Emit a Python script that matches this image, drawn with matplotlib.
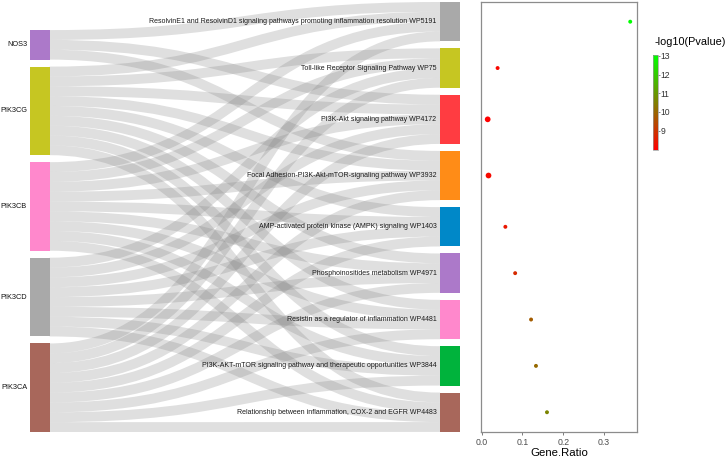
import matplotlib
matplotlib.use('Agg')
import matplotlib.pyplot as plt
import numpy as np
from matplotlib.path import Path
from matplotlib.patches import PathPatch, Rectangle
from matplotlib.colors import LinearSegmentedColormap

plt.rcParams['font.family'] = ['Liberation Sans', 'DejaVu Sans']

# ---------------- data ----------------
genes = ['NOS3', 'PIK3CG', 'PIK3CB', 'PIK3CD', 'PIK3CA']
gene_colors = ['#AC79C9', '#C6C622', '#FF88CC', '#A9A9A9', '#A8675B']

pathways = [
    'ResolvinE1 and ResolvinD1 signaling pathways promoting inflammation resolution WP5191',
    'Toll-like Receptor Signaling Pathway WP75',
    'PI3K-Akt signaling pathway WP4172',
    'Focal Adhesion-PI3K-Akt-mTOR-signaling pathway WP3932',
    'AMP-activated protein kinase (AMPK) signaling WP1403',
    'Phosphoinositides metabolism WP4971',
    'Resistin as a regulator of inflammation WP4481',
    'PI3K-AKT-mTOR signaling pathway and therapeutic opportunities WP3844',
    'Relationship between inflammation, COX-2 and EGFR WP4483',
]
pathway_colors = ['#A9A9A9', '#C6C622', '#FF3C41', '#FF8C17', '#0088C8',
                  '#AC79C9', '#FF88CC', '#00B33C', '#A8675B']

pathway_genes = [
    ['NOS3', 'PIK3CG', 'PIK3CB', 'PIK3CA'],
    ['PIK3CG', 'PIK3CB', 'PIK3CD', 'PIK3CA'],
    ['NOS3', 'PIK3CG', 'PIK3CB', 'PIK3CD', 'PIK3CA'],
    ['NOS3', 'PIK3CG', 'PIK3CB', 'PIK3CD', 'PIK3CA'],
    ['PIK3CG', 'PIK3CB', 'PIK3CD', 'PIK3CA'],
    ['PIK3CG', 'PIK3CB', 'PIK3CD', 'PIK3CA'],
    ['PIK3CG', 'PIK3CB', 'PIK3CD', 'PIK3CA'],
    ['PIK3CG', 'PIK3CB', 'PIK3CD', 'PIK3CA'],
    ['PIK3CG', 'PIK3CB', 'PIK3CD', 'PIK3CA'],
]

gene_ratio = [0.364, 0.039, 0.0147, 0.0167, 0.058, 0.082, 0.121, 0.133, 0.160]
neg_log10_p = [13.05, 8.10, 7.96, 8.15, 8.40, 8.80, 9.80, 10.05, 10.60]
cbar_ticks = [9, 10, 11, 12, 13]
xticks = [0.0, 0.1, 0.2, 0.3]

# ---------------- layout (pixels) ----------------
W, H, DPI = 726, 458, 100
fig = plt.figure(figsize=(W / DPI, H / DPI), dpi=DPI)
ax = fig.add_axes([0, 0, 1, 1])
ax.set_xlim(0, W)
ax.set_ylim(H, 0)
ax.axis('off')

unit = 9.84
gap = 7.0
node_w = 19.5
gene_x0 = 30.0
path_x0 = 440.0
path_top = 2.0
gene_bottom = 432.0

links = [(g, p) for p, gl in enumerate(pathway_genes) for g in (genes.index(x) for x in gl)]
gene_count = [sum(1 for l in links if l[0] == i) for i in range(len(genes))]
path_count = [len(gl) for gl in pathway_genes]

# node positions
gene_h = [c * unit for c in gene_count]
gene_top0 = gene_bottom - (sum(gene_h) + gap * (len(genes) - 1))
gene_y0 = []
y = gene_top0
for h in gene_h:
    gene_y0.append(y)
    y += h + gap
path_h = [c * unit for c in path_count]
path_y0 = []
y = path_top
for h in path_h:
    path_y0.append(y)
    y += h + gap
path_centers = [y0 + h / 2 for y0, h in zip(path_y0, path_h)]

# slots
src_slot = {}
for gi in range(len(genes)):
    ls = sorted([l for l in links if l[0] == gi], key=lambda l: l[1])
    for k, l in enumerate(ls):
        src_slot[l] = gene_y0[gi] + (k + 0.5) * unit
tgt_slot = {}
for pi in range(len(pathways)):
    ls = sorted([l for l in links if l[1] == pi], key=lambda l: l[0])
    for k, l in enumerate(ls):
        tgt_slot[l] = path_y0[pi] + (k + 0.5) * unit

xs = gene_x0 + node_w
xt = path_x0
xm = (xs + xt) / 2
lw_pt = unit * 72 / DPI
for l in links:
    ys, yt = src_slot[l], tgt_slot[l]
    verts = [(xs, ys), (xm, ys), (xm, yt), (xt, yt)]
    codes = [Path.MOVETO, Path.CURVE4, Path.CURVE4, Path.CURVE4]
    ax.add_patch(PathPatch(Path(verts, codes), fill=False, edgecolor='#808080',
                           alpha=0.25, linewidth=lw_pt, capstyle='butt', zorder=1))

for i, g in enumerate(genes):
    ax.add_patch(Rectangle((gene_x0, gene_y0[i]), node_w, gene_h[i],
                           facecolor=gene_colors[i], edgecolor='none', zorder=2))
    ax.text(gene_x0 - 3, gene_y0[i] + gene_h[i] / 2, g, ha='right', va='center',
            fontsize=5.3, color='#111111')
for i, p in enumerate(pathways):
    ax.add_patch(Rectangle((path_x0, path_y0[i]), node_w, path_h[i],
                           facecolor=pathway_colors[i], edgecolor='none', zorder=2))
    ax.text(path_x0 - 3.5, path_centers[i], p, ha='right', va='center',
            fontsize=5.0, color='#1A1A1A', zorder=3)

# ---------------- dot plot ----------------
dl, dr, dt, db = 481, 637, 2, 432
dax = fig.add_axes([dl / W, (H - db) / H, (dr - dl) / W, (db - dt) / H])
dax.set_ylim(db, dt)
dax.set_xlim(-0.0017, 0.3806)
cmap = LinearSegmentedColormap.from_list('rg', ['#FF0000', '#00FF00'])
sizes = [17 if c == 5 else 8 for c in path_count]
sc = dax.scatter(gene_ratio, path_centers, c=neg_log10_p, cmap=cmap,
                 vmin=min(neg_log10_p), vmax=max(neg_log10_p), s=sizes,
                 edgecolors='none', zorder=3)
dax.set_yticks([])
dax.set_xticks(xticks)
dax.set_xticklabels([f'{v:.1f}' for v in xticks])
dax.tick_params(axis='x', labelsize=6.3, labelcolor='#4D4D4D', color='#666666',
                length=2.5, width=0.6, pad=2)
for s in dax.spines.values():
    s.set_color('#8C8C8C')
    s.set_linewidth(0.9)
dax.set_xlabel('Gene.Ratio', fontsize=8.2, labelpad=0.5)

# ---------------- colorbar ----------------
cx0, cx1, cy0, cy1 = 653, 658, 55, 150
cax = fig.add_axes([cx0 / W, (H - cy1) / H, (cx1 - cx0) / W, (cy1 - cy0) / H])
cb = fig.colorbar(sc, cax=cax)
cb.set_ticks(cbar_ticks)
cb.ax.tick_params(labelsize=6.2, length=1.2, width=0.5, color='#555555', pad=0.6,
                  labelcolor='#333333')
cb.outline.set_edgecolor('#9A9A9A')
cb.outline.set_linewidth(0.5)
fig.text(655 / W, 1 - 42 / H, '-log10(Pvalue)', ha='left', va='center', fontsize=7.8)

fig.savefig('out.png', dpi=DPI)
